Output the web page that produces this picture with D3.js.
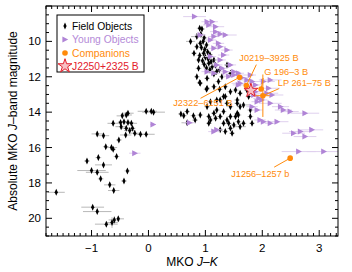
<!DOCTYPE html>
<html><head><meta charset="utf-8">
<script src="https://cdn.jsdelivr.net/npm/d3@7"></script>
<style>
html,body{margin:0;padding:0;background:#fff;}
svg{display:block;font-family:"Liberation Sans",Arial,Helvetica,sans-serif;}
</style></head>
<body><svg id="c" width="352" height="272"></svg>
<script>
// ---- data: [J-K, M_J, errJK, errMJ]
const fieldObjects = [
 [-1.62,18.53,0.15,0.1],[-0.98,19.37,0.2,0.1],[-0.90,19.62,0.25,0.1],[-0.74,20.33,0.2,0.15],
 [-0.64,20.24,0.1,0.3],[-0.60,20.09,0.1,0.2],[-0.53,20.03,0.1,0.15],[-1.08,16.76,0.05,0.1],
 [-1.00,17.30,0.25,0.1],[-0.90,17.40,0.2,0.15],[-0.84,17.77,0.05,0.1],[-0.88,16.57,0.05,0.15],
 [-0.79,16.98,0.15,0.1],[-0.68,18.11,0.1,0.1],[-0.61,18.43,0.1,0.1],[-0.43,17.89,0.05,0.1],
 [-0.37,17.32,0.05,0.1],[-0.56,16.51,0.05,0.1],[-0.75,15.95,0.05,0.1],[-0.65,16.00,0.1,0.1],
 [-0.62,16.10,0.05,0.1],[-0.90,15.23,0.1,0.15],[-0.79,15.33,0.1,0.1],[-0.52,15.57,0.05,0.1],
 [-0.40,15.29,0.1,0.1],[-0.33,15.04,0.1,0.1],[-0.28,14.91,0.05,0.1],[-0.24,15.19,0.1,0.1],
 [-0.14,15.25,0.1,0.1],[-0.04,15.25,0.15,0.1],[-0.62,14.63,0.1,0.15],[-0.49,14.59,0.05,0.1],
 [-0.46,14.21,0.1,0.1],[-0.39,14.16,0.1,0.1],[-0.36,14.06,0.1,0.1],[-0.43,14.54,0.1,0.1],
 [-0.36,14.59,0.1,0.1],[-0.30,14.63,0.1,0.1],[-0.39,14.91,0.1,0.1],[-0.48,14.82,0.1,0.1],
 [-0.04,13.95,0.15,0.1],[0.05,13.95,0.1,0.1],[0.09,14.00,0.2,0.1],
 [0.57,14.10,0.05,0.1],[0.62,14.20,0.05,0.1],[0.68,14.60,0.1,0.1],[0.68,13.97,0.05,0.1],
 [0.79,14.20,0.05,0.1],[0.82,14.45,0.05,0.1],[0.91,14.16,0.05,0.1],[1.06,14.25,0.05,0.1],
 [1.06,14.63,0.05,0.1],
 [0.85,12.00,0.05,0.1],[0.91,12.37,0.05,0.1],[1.03,12.65,0.05,0.1],[1.15,12.56,0.05,0.1],
 [1.25,12.70,0.05,0.1],[1.32,13.12,0.05,0.1],[1.20,13.31,0.05,0.1],[1.09,13.41,0.05,0.1],
 [1.03,13.69,0.05,0.1],[1.38,13.50,0.05,0.1],[1.44,13.69,0.05,0.1],[1.56,13.50,0.05,0.1],
 [1.67,13.59,0.1,0.1],[1.76,13.12,0.05,0.1],[1.73,12.75,0.05,0.1],[1.32,13.97,0.05,0.1],
 [1.26,14.25,0.05,0.1],[1.15,14.06,0.05,0.1],[1.09,14.44,0.05,0.1],[1.38,14.44,0.05,0.1],
 [1.53,14.25,0.05,0.1],[1.58,14.54,0.05,0.1],[1.50,14.72,0.05,0.1],[1.61,14.82,0.1,0.1],
 [1.67,14.63,0.05,0.1],[1.44,14.91,0.05,0.1],[1.32,14.63,0.05,0.1],[1.26,15.00,0.05,0.1],
 [1.58,14.16,0.05,0.1],[1.44,14.25,0.05,0.1],[1.35,15.10,0.05,0.1],[1.47,15.19,0.05,0.1],
 [1.79,13.88,0.05,0.1],[1.79,14.25,0.05,0.1],[1.82,14.63,0.05,0.1],[1.61,13.69,0.05,0.1],
 [1.56,14.06,0.05,0.1],[1.20,13.88,0.05,0.1],[1.18,14.35,0.05,0.1],[1.41,14.63,0.05,0.1],
 [1.35,13.12,0.05,0.1],[1.44,12.84,0.05,0.1],[1.53,12.75,0.05,0.1],[1.61,12.93,0.05,0.1],
 [1.56,13.31,0.05,0.1],[1.26,13.31,0.05,0.1],
 [0.90,9.26,0.05,0.1],[0.94,9.30,0.05,0.1],[0.85,9.73,0.1,0.1],[0.92,9.60,0.05,0.1],
 [0.98,9.80,0.05,0.1],[0.74,10.00,0.08,0.1],[0.91,10.10,0.05,0.1],[0.96,10.00,0.05,0.1],
 [1.02,10.20,0.05,0.1],[0.85,10.30,0.05,0.1],[0.93,10.35,0.05,0.1],[0.99,10.45,0.05,0.1],
 [0.80,10.67,0.05,0.1],[0.97,10.67,0.05,0.1],[1.04,10.60,0.05,0.1],[1.08,10.75,0.05,0.1],
 [0.90,10.80,0.05,0.1],[1.00,10.90,0.05,0.1],[0.88,11.05,0.05,0.1],[0.95,11.10,0.05,0.1],
 [1.05,11.00,0.05,0.1],[1.15,11.05,0.05,0.1],[1.10,11.15,0.05,0.1],[1.06,11.24,0.05,0.1],
 [0.98,11.30,0.05,0.1],[1.12,11.43,0.05,0.1],[0.88,11.52,0.05,0.1],[1.02,11.50,0.05,0.1],
 [1.18,11.35,0.05,0.1],[1.38,11.33,0.05,0.1],[1.08,11.60,0.05,0.1],[1.20,11.70,0.05,0.1],
 [1.25,11.60,0.05,0.1],[1.15,11.85,0.05,0.1],[1.29,12.00,0.05,0.1],[1.44,11.80,0.05,0.1],
 [1.03,12.09,0.05,0.1],[1.23,12.27,0.05,0.1],[0.90,12.33,0.05,0.1],[1.35,12.56,0.05,0.1],
 [1.02,12.70,0.05,0.1]
];
const youngObjects = [
 [0.81,8.60,0.2,0.1],[1.03,8.89,0.1,0.1],[1.12,8.89,0.1,0.1],[1.06,9.07,0.1,0.1],
 [1.18,9.17,0.15,0.1],[1.18,9.45,0.1,0.1],[1.26,9.58,0.1,0.1],[1.35,9.64,0.2,0.1],
 [1.15,9.73,0.1,0.1],[0.91,9.64,0.1,0.1],[1.09,9.92,0.1,0.1],[1.23,10.11,0.1,0.1],
 [1.26,10.30,0.1,0.1],[1.15,10.39,0.1,0.1],[1.38,10.49,0.1,0.1],[1.32,10.77,0.1,0.1],
 [1.09,10.86,0.1,0.1],[1.26,11.05,0.1,0.1],[1.20,11.33,0.1,0.1],[1.44,11.33,0.1,0.1],
 [1.29,11.52,0.1,0.1],[1.35,11.71,0.1,0.1],[1.03,11.71,0.1,0.1],[1.50,11.71,0.1,0.1],
 [1.41,11.99,0.1,0.1],[1.50,11.90,0.2,0.1],[1.58,11.80,0.1,0.1],[1.64,12.05,0.1,0.1],
 [1.73,12.18,0.1,0.1],[1.82,12.27,0.15,0.1],[1.79,11.90,0.1,0.1],[1.15,11.80,0.1,0.1],
 [1.61,12.37,0.15,0.2],[1.58,12.46,0.1,0.1],[1.88,12.46,0.1,0.1],[2.02,12.27,0.2,0.1],
 [2.14,12.18,0.2,0.1],[2.11,12.65,0.2,0.1],[1.88,12.84,0.1,0.1],[2.08,12.93,0.2,0.1],
 [1.94,13.22,0.1,0.1],[2.17,13.03,0.2,0.1],[1.85,13.03,0.1,0.1],[1.99,13.31,0.1,0.1],
 [1.91,13.41,0.1,0.1],[2.14,13.50,0.2,0.1],[1.82,13.69,0.1,0.1],[1.91,13.88,0.1,0.1],
 [2.32,13.69,0.15,0.1],[2.37,13.88,0.15,0.1],[2.49,13.97,0.15,0.1],[2.75,14.06,0.25,0.1],
 [1.96,14.44,0.1,0.1],[2.02,14.54,0.1,0.1],[2.14,14.63,0.1,0.1],[2.26,14.54,0.2,0.1],
 [1.20,15.00,0.1,0.1],[1.15,15.10,0.1,0.1],[0.72,14.60,0.1,0.1],[0.08,14.70,0.05,0.1],
 [-0.24,16.32,0.1,0.1],[2.55,15.19,0.2,0.1],[2.67,15.10,0.2,0.1],[2.87,15.00,0.2,0.1],
 [2.75,15.38,0.2,0.1],[2.64,16.23,0.3,0.1],[3.08,16.23,0.3,0.1]
];
const companionNames = ["J2322\u20136151 B","J0219\u20133925 B","G 196\u20133 B","LP 261\u201375 B","J1256\u20131257 b"];
const companionJK  = [1.60, 1.72, 1.98, 2.01, 2.49];
const companionMJ  = [12.03, 12.50, 12.69, 13.07, 16.60];
const companionErrJK = [0, 0, 0, 0.12, 0];
const companionErrMJ = [0, 0, 0, 1.2, 0];
const targetName = "J2250+2325 B";
const targetJK = 1.80, targetMJ = 12.78;
const legendLabels = ["Field Objects","Young Objects","Companions","J2250+2325 B"];
const xTicks = [-1,0,1,2,3];
const yTicks = [10,12,14,16,18,20];

// ---- layout
const L=46, R=338, T=6, B=236;
const cBlack="#000", cYoung="#b084d6", cYoungErr="#dfd0ee", cGray="#b8b8b8", cOrange="#ff8a0a", cRed="#e3202c";
// label layout: [textDx, textDy, anchor, lineDx, lineDy] relative to the companion point (pixels)
const labelLayout = [
 [-7, 29, "end", -39, 21],
 [-7, -25, "start", 10, -21],
 [3, -14, "start", 2, -11],
 [15, -10, "start", 16, -7],
 [-59, 19, "start", -16, 9]
];

const svg = d3.select("#c");
const x = d3.scaleLinear().domain([-1.8, 3.33]).range([L, R]);
const y = d3.scaleLinear().domain([8, 21]).range([T, B]);

const plot = svg.append("g");
plot.append("defs").append("clipPath").attr("id","clip").append("rect")
 .attr("x",L).attr("y",T).attr("width",R-L).attr("height",B-T);
const g = plot.append("g").attr("clip-path","url(#clip)");

function errBars(data, color){
  const eg = g.append("g").attr("stroke",color).attr("stroke-width",1).attr("fill","none");
  data.forEach(d=>{
    if(d[2]>0) eg.append("line").attr("x1",x(d[0]-d[2])).attr("x2",x(d[0]+d[2])).attr("y1",y(d[1])).attr("y2",y(d[1]));
    if(d[3]>0) eg.append("line").attr("x1",x(d[0])).attr("x2",x(d[0])).attr("y1",y(d[1]-d[3])).attr("y2",y(d[1]+d[3]));
  });
}
const diamond = "M0,-3.5L1.6,0L0,3.5L-1.6,0Z";
const tri = "M-2.6,-3L3.2,0L-2.6,3Z";

errBars(fieldObjects, cGray);
g.append("g").selectAll("path").data(fieldObjects).join("path")
 .attr("d",diamond).attr("fill",cBlack)
 .attr("transform",d=>`translate(${x(d[0])},${y(d[1])})`);
errBars(youngObjects, cYoungErr);
g.append("g").selectAll("path").data(youngObjects).join("path")
 .attr("d",tri).attr("fill",cYoung)
 .attr("transform",d=>`translate(${x(d[0])},${y(d[1])})`);

// companions
const comp = companionNames.map((n,i)=>({name:n, jk:companionJK[i], mj:companionMJ[i], ex:companionErrJK[i], ey:companionErrMJ[i], lay:labelLayout[i]}));
const cg = svg.append("g");
comp.forEach(c=>{
  const px=x(c.jk), py=y(c.mj);
  if(c.ex>0) cg.append("line").attr("x1",x(c.jk-c.ex)).attr("x2",x(c.jk+c.ex)).attr("y1",py).attr("y2",py).attr("stroke",cOrange).attr("stroke-width",1);
  if(c.ey>0) cg.append("line").attr("x1",px).attr("x2",px).attr("y1",y(c.mj-c.ey)).attr("y2",y(c.mj+c.ey)).attr("stroke",cOrange).attr("stroke-width",1);
  cg.append("line").attr("x1",px+c.lay[3]).attr("y1",py+c.lay[4]).attr("x2",px).attr("y2",py)
    .attr("stroke",cOrange).attr("stroke-width",1);
  cg.append("circle").attr("cx",px).attr("cy",py).attr("r",2.8).attr("fill",cOrange);
  cg.append("text").attr("x",px+c.lay[0]).attr("y",py+c.lay[1]).attr("text-anchor",c.lay[2])
    .attr("font-size",9.2).attr("fill",cOrange).text(c.name);
});
const star = d3.symbol().type(d3.symbolStar).size(60);
svg.append("path").attr("d",star()).attr("transform",`translate(${x(targetJK)},${y(targetMJ)})`)
 .attr("fill","#f7c0c4").attr("stroke",cRed).attr("stroke-width",1);

// axes frame
svg.append("rect").attr("x",L).attr("y",T).attr("width",R-L).attr("height",B-T)
 .attr("fill","none").attr("stroke","#000").attr("stroke-width",1);
const tk = svg.append("g").attr("stroke","#000").attr("stroke-width",1);
d3.range(-1.8,3.33,0.1).forEach(v=>{
  const vv=Math.round(v*10)/10; if(vv<-1.8||vv>3.33) return;
  const major = Math.abs(vv-Math.round(vv))<1e-6;
  const len = major?6:3; const px=x(vv);
  tk.append("line").attr("x1",px).attr("x2",px).attr("y1",B).attr("y2",B-len);
  tk.append("line").attr("x1",px).attr("x2",px).attr("y1",T).attr("y2",T+len);
});
d3.range(8,21.01,0.5).forEach(v=>{
  const major = Math.abs(v/2-Math.round(v/2))<1e-6;
  const len = major?6:3; const py=y(v);
  tk.append("line").attr("y1",py).attr("y2",py).attr("x1",L).attr("x2",L+len);
  tk.append("line").attr("y1",py).attr("y2",py).attr("x1",R).attr("x2",R-len);
});
svg.append("g").selectAll("text").data(xTicks).join("text")
 .attr("x",d=>x(d)).attr("y",B+16).attr("text-anchor","middle").attr("font-size",11.5)
 .text(d=>d<0?"\u2212"+Math.abs(d):d);
svg.append("g").selectAll("text").data(yTicks).join("text")
 .attr("x",L-5).attr("y",d=>y(d)+4).attr("text-anchor","end").attr("font-size",11.5).text(d=>d);

// axis titles
const xt = svg.append("text").attr("x",(L+R)/2).attr("y",266).attr("text-anchor","middle").attr("font-size",12);
xt.append("tspan").text("MKO ");
xt.append("tspan").attr("font-style","italic").text("J");
xt.append("tspan").text("\u2013");
xt.append("tspan").attr("font-style","italic").text("K");
const yt = svg.append("text").attr("transform",`translate(17,${(T+B)/2}) rotate(-90)`).attr("text-anchor","middle").attr("font-size",12);
yt.append("tspan").text("Absolute MKO ");
yt.append("tspan").attr("font-style","italic").text("J");
yt.append("tspan").text("\u2013band magnitude");

// legend
const lg = svg.append("g");
lg.append("rect").attr("x",57).attr("y",15).attr("width",87).attr("height",57).attr("fill","#fff").attr("stroke","#000").attr("stroke-width",1);
const ly = [26,39.5,53,66];
const lcol = [cBlack, "#b48ad8", cOrange, cRed];
lg.append("path").attr("d",diamond).attr("transform",`translate(65,${ly[0]})`).attr("fill",cBlack);
lg.append("path").attr("d",tri).attr("transform",`translate(65,${ly[1]})`).attr("fill",cYoung);
lg.append("circle").attr("cx",65).attr("cy",ly[2]).attr("r",2.8).attr("fill",cOrange);
lg.append("path").attr("d",star()).attr("transform",`translate(65,${ly[3]})`).attr("fill","#f7c0c4").attr("stroke",cRed).attr("stroke-width",1);
legendLabels.forEach((t,i)=>{
  lg.append("text").attr("x",72).attr("y",ly[i]+3.8).attr("font-size",10.3).attr("fill",lcol[i]).text(t);
});
</script></body></html>
